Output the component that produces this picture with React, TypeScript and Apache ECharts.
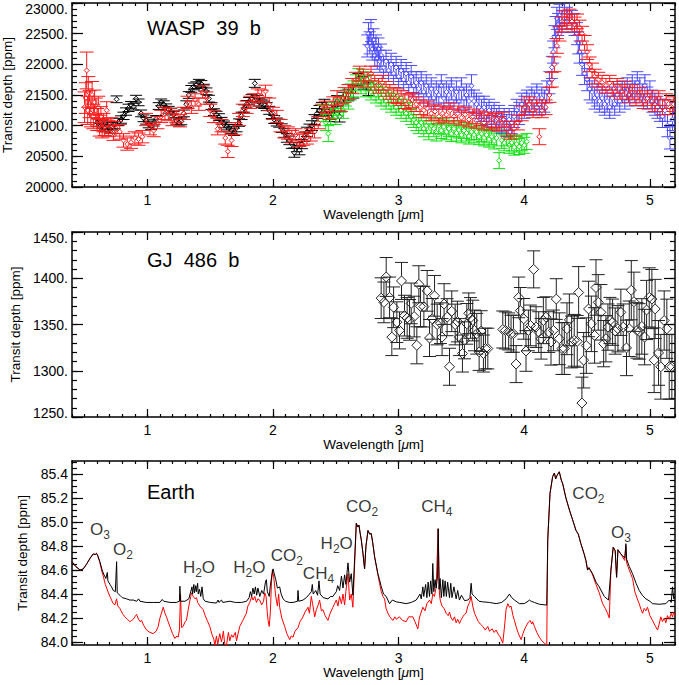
import React, { useEffect, useRef } from 'react';
import * as echarts from 'echarts';

const FONT = '"Liberation Sans", Arial, Helvetica, sans-serif';

// ---------- tick labels ----------
const xMajorTicks = [1, 2, 3, 4, 5];
const waspYTicks = [20000, 20500, 21000, 21500, 22000, 22500, 23000];
const gjYTicks = [1250, 1300, 1350, 1400, 1450];
const earthYTicks = [84.0, 84.2, 84.4, 84.6, 84.8, 85.0, 85.2, 85.4];

// ---------- WASP 39 b : [wavelength, depth, error] ----------
const waspBlack = [
  [0.60,21050,60],[0.62,20980,60],[0.64,21020,60],[0.66,20960,60],[0.68,21000,60],[0.70,20940,60],[0.72,20990,60],[0.74,21010,60],
  [0.755,21430,55],[0.77,21060,60],[0.79,21100,60],[0.81,21160,60],[0.83,21230,60],[0.85,21290,60],[0.87,21340,55],[0.89,21310,55],
  [0.91,21440,55],[0.93,21380,55],[0.95,21200,55],[0.97,21120,55],[0.99,21080,55],[1.01,21020,55],[1.03,20990,55],[1.05,21050,55],
  [1.07,21110,55],[1.09,21320,55],[1.11,21380,55],[1.13,21350,55],[1.15,21300,55],[1.17,21260,55],[1.19,21230,55],[1.21,21180,55],
  [1.23,21080,55],[1.25,21050,55],[1.27,21070,55],[1.29,21200,55],[1.31,21350,55],[1.33,21500,55],[1.35,21600,55],[1.37,21640,55],
  [1.39,21660,55],[1.41,21700,55],[1.43,21680,55],[1.45,21620,55],[1.47,21560,55],[1.49,21440,55],[1.51,21320,55],[1.53,21220,55],
  [1.55,21180,55],[1.57,21140,55],[1.59,21080,55],[1.61,21020,55],[1.63,20990,60],[1.65,20960,60],[1.67,20930,60],[1.69,20900,60],
  [1.71,20960,60],[1.73,21050,60],[1.75,21160,60],[1.77,21280,60],[1.79,21350,60],[1.81,21400,60],[1.83,21450,60],[1.855,21690,65],
  [1.87,21430,60],[1.89,21380,60],[1.91,21360,60],[1.93,21340,60],[1.95,21310,65],[1.97,21250,65],[1.99,21180,65],[2.01,21100,65],
  [2.03,21060,65],[2.05,21040,65],[2.07,20960,70],[2.09,20880,70],[2.11,20800,70],[2.13,20760,70],[2.15,20700,70],[2.17,20560,75],
  [2.19,20650,75],[2.21,20600,75],[2.23,20700,75],[2.25,20820,75],[2.27,20900,75],[2.29,20950,75],[2.31,21000,80],[2.33,21100,80],
  [2.35,21200,80],[2.37,21250,80],[2.39,21300,80],[2.41,21350,80],[2.43,21250,85],[2.45,21150,85],[2.47,21200,85],[2.49,21300,85],
  [2.51,21400,90],[2.53,21150,90],[2.56,21450,95],[2.60,21500,95],[2.64,21550,100],[2.68,21750,100],[2.72,21700,105],[2.76,21600,110],
];

const waspRed = [
  [0.50,21300,250],[0.51,21450,250],[0.517,21900,300],[0.525,21250,230],[0.53,21550,250],[0.54,21350,220],[0.55,21200,220],[0.56,21500,220],
  [0.57,21150,200],[0.58,21380,200],[0.59,21250,200],[0.60,21100,180],[0.61,21300,180],[0.62,21000,170],[0.63,21150,160],[0.64,20950,150],
  [0.65,21050,150],[0.66,20980,140],[0.676,21250,140],[0.69,20950,130],[0.71,21000,130],[0.73,20880,120],[0.75,20950,120],[0.78,20900,120],
  [0.81,20760,110],[0.84,20700,100],[0.87,20730,100],[0.90,20800,100],[0.93,20780,100],[0.96,20820,100],[0.99,21100,100],[1.02,20950,100],
  [1.05,20920,100],[1.08,21050,100],[1.11,21150,100],[1.14,21200,100],[1.17,21180,100],[1.20,21100,100],[1.23,21150,100],[1.26,21080,100],
  [1.29,21200,100],[1.32,21380,100],[1.35,21300,100],[1.38,21420,100],[1.41,21350,100],[1.44,21550,100],[1.47,21450,100],[1.50,21250,100],
  [1.53,21150,100],[1.56,20950,100],[1.59,21000,100],[1.62,20800,100],[1.64,20580,100],[1.67,20760,100],[1.70,20950,100],[1.73,21100,100],
  [1.76,21250,100],[1.79,21300,100],[1.82,21380,100],[1.85,21420,100],[1.88,21500,100],[1.91,21480,100],[1.94,21560,100],[1.97,21350,100],
  [2.00,21200,100],[2.03,21150,100],[2.06,21000,100],[2.09,20900,100],[2.12,20880,100],[2.15,20820,100],[2.18,20850,100],[2.21,20760,100],
  [2.24,20780,100],[2.27,20800,100],[2.30,20850,100],[2.33,20900,100],[2.36,21050,100],[2.39,21250,100],[2.42,21300,100],[2.45,21200,100],
  [2.48,21350,120],[2.51,21450,120],[2.54,21350,120],[2.57,21500,120],[2.60,21550,120],[2.63,21650,120],[2.66,21750,120],[2.69,21850,120],
  [2.72,21800,120],[2.75,21750,120],[2.78,21850,120],[2.81,21700,120],[2.84,21650,120],[2.87,21700,120],[2.90,21600,120],[2.93,21550,120],
  [2.96,21500,120],[2.99,21480,120],[3.02,21450,120],[3.05,21400,120],[3.08,21380,120],[3.11,21420,120],[3.14,21350,120],[3.17,21300,120],
  [3.20,21250,120],[3.23,21280,120],[3.26,21200,120],[3.29,21230,120],[3.32,21150,120],[3.35,21200,120],[3.38,21180,120],[3.41,21250,120],
  [3.44,21150,120],[3.47,21200,120],[3.50,21130,120],[3.53,21180,120],[3.56,21100,120],[3.59,21150,120],[3.62,21080,120],[3.65,21120,120],
  [3.68,21050,120],[3.71,21100,120],[3.74,21050,120],[3.77,21080,120],[3.80,21030,120],[3.83,21100,120],[3.86,20950,120],[3.89,20900,120],
  [3.92,20950,120],[3.95,21050,120],[3.98,21200,120],[4.01,21300,120],[4.04,21350,120],[4.07,21250,120],[4.10,21300,120],[4.12,20820,130],
  [4.14,21250,120],[4.17,21300,120],[4.20,21500,120],[4.22,21750,120],[4.24,22000,120],[4.26,22300,120],[4.28,22500,120],[4.30,22650,120],
  [4.32,22750,120],[4.34,22700,120],[4.36,22780,120],[4.38,22700,120],[4.40,22650,120],[4.42,22700,120],[4.44,22600,120],[4.46,22500,120],
  [4.48,22350,120],[4.50,22200,120],[4.52,22000,120],[4.54,21900,120],[4.56,21800,120],[4.59,21750,120],[4.62,21700,120],[4.65,21650,120],
  [4.68,21700,120],[4.71,21600,120],[4.74,21650,120],[4.77,21550,120],[4.80,21600,120],[4.83,21500,120],[4.86,21550,120],[4.89,21450,120],
  [4.92,21500,120],[4.95,21400,120],[4.98,21450,120],[5.01,21400,120],[5.04,21350,120],[5.07,21450,120],[5.10,21300,120],[5.13,21400,120],
  [5.16,21300,120],[5.19,21350,120],
];

const waspGreen = [
  [2.40,21200,130],[2.42,21050,130],[2.44,20870,130],[2.46,21150,130],[2.48,21250,130],[2.50,21150,130],[2.52,21300,130],[2.54,21350,130],
  [2.56,21250,130],[2.58,21450,130],[2.60,21400,130],[2.62,21550,130],[2.64,21600,130],[2.66,21700,130],[2.68,21800,130],[2.70,21650,130],
  [2.72,21750,130],[2.74,21600,130],[2.76,21700,130],[2.78,21550,130],[2.80,21600,130],[2.82,21500,130],[2.84,21550,130],[2.86,21450,130],
  [2.88,21500,130],[2.90,21400,130],[2.92,21450,130],[2.94,21350,130],[2.96,21400,130],[2.98,21300,130],[3.00,21350,130],[3.02,21250,130],
  [3.04,21300,130],[3.06,21200,130],[3.08,21250,130],[3.10,21150,130],[3.12,21100,130],[3.14,21050,130],[3.16,21000,130],[3.18,21050,130],
  [3.20,20950,130],[3.22,21000,130],[3.24,20900,130],[3.26,21000,130],[3.28,20950,130],[3.30,20880,130],[3.32,21000,130],[3.34,20920,130],
  [3.36,20980,130],[3.38,20900,130],[3.40,20950,130],[3.42,20870,130],[3.44,20950,130],[3.46,20880,130],[3.48,20930,130],[3.50,20850,130],
  [3.52,20920,130],[3.54,20880,130],[3.56,20830,130],[3.58,20900,130],[3.60,20850,130],[3.62,20900,130],[3.64,20820,130],[3.66,20870,130],
  [3.68,20800,130],[3.70,20850,130],[3.72,20780,130],[3.74,20820,130],[3.76,20750,130],[3.78,20800,130],[3.80,20430,130],[3.82,20760,130],
  [3.84,20720,130],[3.86,20800,130],[3.88,20680,130],[3.90,20720,130],[3.92,20650,130],[3.94,20700,130],[3.96,20660,130],[3.98,20720,130],
  [4.00,20680,130],[4.02,20740,130],
];

const waspBlue = [
  [2.75,22300,180],[2.76,22500,180],[2.77,22350,180],[2.78,22550,180],[2.79,22250,180],[2.80,22400,180],[2.81,22150,180],[2.82,22300,180],
  [2.83,22100,180],[2.84,22250,180],[2.85,22050,180],[2.86,22150,180],[2.88,21950,180],[2.90,22050,180],[2.92,21900,180],[2.94,22000,180],
  [2.96,21850,180],[2.98,21950,180],[3.00,21800,180],[3.02,21900,180],[3.04,21750,180],[3.06,21850,180],[3.08,21700,180],[3.10,21800,180],
  [3.12,21650,180],[3.14,21700,180],[3.16,21600,180],[3.18,21700,180],[3.20,21550,180],[3.22,21650,180],[3.24,21500,180],[3.26,21600,180],
  [3.28,21450,180],[3.30,21550,180],[3.32,21500,180],[3.34,21650,180],[3.36,21450,180],[3.38,21550,180],[3.40,21500,180],[3.42,21600,180],
  [3.44,21450,180],[3.46,21550,180],[3.48,21400,180],[3.50,21600,180],[3.52,21450,180],[3.54,21500,180],[3.56,21400,180],[3.58,21650,180],
  [3.60,21400,180],[3.62,21350,180],[3.64,21300,180],[3.66,21250,180],[3.68,21300,180],[3.70,21200,180],[3.72,21250,180],[3.74,21150,180],
  [3.76,21200,180],[3.78,21100,180],[3.80,21150,180],[3.82,21050,180],[3.84,21100,180],[3.86,21000,180],[3.88,21100,180],[3.90,21050,180],
  [3.92,21150,180],[3.94,21250,180],[3.96,21200,180],[3.98,21350,180],[4.00,21300,180],[4.02,21400,180],[4.04,21350,180],[4.06,21450,180],
  [4.08,21400,180],[4.10,21500,180],[4.12,21350,180],[4.14,21450,180],[4.16,21400,180],[4.18,21550,180],[4.20,21700,180],[4.22,21950,180],
  [4.23,22200,180],[4.24,22450,180],[4.25,22600,180],[4.26,22750,180],[4.27,22650,180],[4.28,22800,180],[4.30,22700,180],[4.32,22850,180],
  [4.34,22750,180],[4.36,22850,180],[4.38,22700,180],[4.40,22650,180],[4.42,22500,180],[4.43,22350,180],[4.44,22200,180],[4.46,22000,180],
  [4.48,21850,180],[4.50,21750,180],[4.52,21600,180],[4.54,21550,180],[4.56,21450,180],[4.58,21500,180],[4.60,21400,180],[4.62,21450,180],
  [4.64,21350,180],[4.66,21400,180],[4.68,21300,180],[4.70,21450,180],[4.72,21350,180],[4.74,21500,180],[4.76,21400,180],[4.78,21550,180],
  [4.80,21450,180],[4.82,21600,180],[4.84,21500,180],[4.86,21650,180],[4.88,21550,180],[4.90,21700,180],[4.92,21600,180],[4.94,21500,180],
  [4.96,21650,180],[4.98,21450,180],[5.00,21550,180],[5.02,21400,180],[5.04,21350,180],[5.06,21300,180],[5.08,21250,180],[5.10,21150,180],
  [5.12,21250,180],[5.14,21000,180],[5.16,20800,180],[5.18,21100,180],[5.20,21200,180],
];

// ---------- GJ 486 b : [wavelength, depth, error] ----------
const gjData = [
  [2.861,1378.5,22],[2.883,1373.9,22],[2.901,1401.4,21],[2.928,1379.3,22],[2.946,1336.4,20],[2.960,1368.6,22],[2.986,1352.5,22],
  [3.007,1343.6,20],[3.023,1397.1,20],[3.047,1359.6,22],[3.068,1357.1,22],[3.087,1355.0,22],[3.100,1372.8,22],[3.124,1358.6,22],
  [3.145,1327.5,20],[3.161,1393.5,20],[3.174,1369.6,22],[3.201,1369.3,22],[3.227,1386.4,22],[3.246,1335.4,20],[3.267,1356.1,22],
  [3.286,1381.0,22],[3.307,1350.0,22],[3.333,1351.4,22],[3.346,1336.4,20],[3.362,1372.1,22],[3.386,1357.9,20],[3.405,1304.3,20],
  [3.423,1364.3,22],[3.450,1350.0,22],[3.468,1353.2,22],[3.484,1336.4,20],[3.508,1318.6,20],[3.524,1332.9,20],[3.543,1350.7,22],
  [3.558,1362.1,22],[3.572,1357.1,22],[3.590,1354.3,22],[3.604,1343.6,22],[3.622,1340.0,22],[3.641,1320.4,20],[3.657,1342.9,22],
  [3.675,1318.6,20],[3.691,1324.0,22],[3.710,1324.0,22],
  [3.829,1344.6,20],[3.850,1343.6,20],[3.876,1342.5,20],[3.895,1340.0,20],[3.914,1340.0,20],[3.935,1307.2,20],[3.956,1379.3,22],
  [3.969,1365.0,25],[3.996,1356.1,22],[4.014,1321.4,22],[4.033,1343.6,22],[4.049,1349.0,22],[4.075,1409.6,20],[4.094,1347.2,22],
  [4.115,1341.8,22],[4.134,1334.6,22],[4.152,1354.3,25],[4.173,1357.9,22],[4.195,1341.8,22],[4.213,1331.1,25],[4.232,1343.6,22],
  [4.255,1377.5,22],[4.279,1334.6,28],[4.300,1324.0,28],[4.319,1324.0,28],[4.340,1345.4,28],[4.359,1355.0,28],[4.377,1331.1,28],
  [4.398,1332.9,28],[4.422,1331.8,28],[4.433,1384.6,28],[4.459,1265.1,28],[4.473,1311.4,30],[4.494,1327.2,30],[4.512,1366.8,30],
  [4.534,1350.7,30],[4.560,1338.2,30],[4.571,1390.0,30],[4.589,1373.9,30],[4.610,1363.2,30],[4.632,1329.3,25],[4.650,1334.6,25],
  [4.666,1347.2,25],[4.682,1354.3,25],[4.703,1352.5,25],[4.724,1342.9,25],[4.746,1345.4,25],[4.769,1363.2,25],[4.788,1347.2,25],
  [4.814,1324.7,30],[4.836,1345.4,30],[4.852,1387.1,32],[4.873,1374.6,32],[4.897,1343.6,30],[4.915,1342.5,30],[4.936,1347.9,30],
  [4.958,1336.4,30],[4.974,1365.7,32],[4.995,1379.3,32],[5.016,1377.5,32],[5.034,1311.4,35],[5.042,1366.8,32],[5.069,1319.3,35],
  [5.087,1304.3,35],[5.114,1354.3,32],[5.135,1345.4,32],[5.154,1304.3,35],[5.175,1304.3,35],
];

// ---------- Earth : [wavelength, depth] ----------
const earthBlack = [
  [0.40,84.67],[0.43,84.63],[0.464,84.60],[0.49,84.61],[0.516,84.65],[0.545,84.70],[0.569,84.735],[0.585,84.73],[0.595,84.74],[0.605,84.72],
  [0.622,84.67],[0.64,84.60],[0.655,84.56],[0.67,84.53],[0.681,84.58],[0.686,84.51],[0.702,84.48],[0.715,84.46],[0.728,84.43],[0.745,84.42],
  [0.750,84.42],[0.755,84.67],[0.760,84.41],[0.781,84.39],[0.80,84.37],[0.834,84.36],[0.86,84.35],[0.888,84.35],[0.914,84.34],[0.93,84.36],
  [0.941,84.34],[0.99,84.33],[1.05,84.33],[1.10,84.33],[1.118,84.355],[1.13,84.34],[1.18,84.33],[1.23,84.33],[1.255,84.34],[1.259,84.465],
  [1.264,84.34],[1.30,84.34],[1.33,84.36],[1.345,84.42],[1.355,84.46],[1.36,84.40],[1.37,84.48],[1.375,84.41],[1.385,84.47],[1.39,84.42],
  [1.40,84.49],[1.405,84.40],[1.415,84.44],[1.425,84.38],[1.435,84.46],[1.445,84.36],[1.46,84.34],[1.50,84.33],[1.55,84.325],[1.563,84.35],
  [1.57,84.33],[1.59,84.35],[1.60,84.33],[1.656,84.34],[1.70,84.33],[1.75,84.33],[1.79,84.34],[1.81,84.37],[1.82,84.42],[1.83,84.38],
  [1.84,84.45],[1.85,84.40],[1.86,84.46],[1.87,84.39],[1.88,84.45],[1.895,84.38],[1.91,84.43],[1.925,84.40],[1.94,84.50],[1.947,84.52],
  [1.955,84.42],[1.97,84.38],[1.979,84.47],[1.99,84.55],[2.00,84.61],[2.01,84.57],[2.022,84.52],[2.035,84.45],[2.053,84.46],[2.065,84.40],
  [2.08,84.36],[2.10,84.34],[2.13,84.33],[2.16,84.33],[2.195,84.34],[2.199,84.43],[2.205,84.34],[2.239,84.35],[2.265,84.37],[2.29,84.40],
  [2.305,84.42],[2.313,84.48],[2.32,84.40],[2.34,84.43],[2.355,84.39],[2.366,84.51],[2.375,84.40],[2.40,84.37],[2.437,84.36],[2.46,84.38],
  [2.477,84.38],[2.49,84.40],[2.504,84.42],[2.515,84.47],[2.53,84.43],[2.545,84.55],[2.557,84.45],[2.57,84.56],[2.58,84.48],[2.597,84.66],
  [2.61,84.50],[2.623,84.57],[2.636,84.39],[2.65,84.70],[2.663,84.99],[2.675,84.96],[2.684,84.975],[2.695,84.90],[2.703,84.85],[2.715,84.75],
  [2.729,84.61],[2.74,84.80],[2.756,84.93],[2.77,84.90],[2.782,84.905],[2.795,84.82],[2.809,84.71],[2.835,84.57],[2.848,84.52],[2.862,84.46],
  [2.88,84.40],[2.901,84.38],[2.928,84.32],[2.95,84.35],[2.981,84.335],[3.01,84.33],[3.06,84.32],[3.10,84.33],[3.14,84.35],[3.17,84.40],
  [3.18,84.36],[3.193,84.46],[3.20,84.38],[3.215,84.48],[3.225,84.37],[3.235,84.50],[3.246,84.38],[3.255,84.51],[3.265,84.40],[3.272,84.655],
  [3.28,84.42],[3.29,84.52],[3.299,84.45],[3.31,84.55],[3.315,84.945],[3.322,84.44],[3.33,84.53],[3.34,84.37],[3.352,84.52],[3.36,84.38],
  [3.37,84.51],[3.38,84.38],[3.39,84.50],[3.405,84.37],[3.415,84.49],[3.425,84.37],[3.44,84.46],[3.458,84.36],[3.47,84.43],[3.484,84.35],
  [3.50,84.39],[3.525,84.345],[3.551,84.35],[3.568,84.37],[3.577,84.49],[3.585,84.40],[3.604,84.38],[3.64,84.34],[3.67,84.335],[3.723,84.33],
  [3.776,84.32],[3.82,84.33],[3.855,84.36],[3.882,84.40],[3.90,84.37],[3.922,84.35],[3.961,84.32],[4.00,84.32],[4.03,84.34],[4.041,84.35],
  [4.055,84.34],[4.081,84.33],[4.12,84.315],[4.179,84.308],[4.187,84.85],[4.205,85.24],[4.226,85.38],[4.24,85.41],[4.25,85.36],[4.261,85.39],
  [4.279,85.42],[4.295,85.35],[4.306,85.32],[4.332,85.20],[4.36,85.10],[4.385,85.02],[4.412,84.93],[4.43,84.90],[4.451,84.82],[4.475,84.74],
  [4.491,84.68],[4.504,84.60],[4.515,84.62],[4.544,84.57],[4.571,84.50],[4.597,84.46],[4.637,84.38],[4.671,84.35],[4.690,84.60],[4.708,84.79],
  [4.72,84.77],[4.724,84.76],[4.735,84.54],[4.746,84.77],[4.765,84.74],[4.783,84.72],[4.80,84.70],[4.809,84.82],[4.815,84.69],[4.836,84.63],
  [4.862,84.57],[4.89,84.49],[4.915,84.43],[4.94,84.39],[4.968,84.36],[5.00,84.34],[5.021,84.32],[5.074,84.315],[5.127,84.32],[5.154,84.35],
  [5.17,84.33],[5.18,84.46],[5.19,84.36],[5.20,84.38],
];

const earthRed = [
  [0.40,84.67],[0.43,84.63],[0.464,84.60],[0.49,84.61],[0.516,84.65],[0.545,84.70],[0.569,84.735],[0.585,84.73],[0.595,84.74],[0.605,84.72],
  [0.622,84.66],[0.64,84.58],[0.649,84.55],[0.665,84.48],[0.676,84.45],[0.69,84.41],[0.702,84.38],[0.715,84.35],[0.728,84.32],[0.742,84.31],
  [0.755,84.36],[0.765,84.30],[0.781,84.28],[0.80,84.24],[0.821,84.21],[0.84,84.19],[0.861,84.17],[0.875,84.18],[0.888,84.19],[0.90,84.21],
  [0.914,84.23],[0.93,84.19],[0.941,84.17],[0.954,84.18],[0.97,84.14],[0.993,84.10],[1.02,84.08],[1.046,84.07],[1.07,84.09],[1.086,84.13],
  [1.10,84.20],[1.115,84.25],[1.126,84.29],[1.14,84.24],[1.152,84.21],[1.165,84.17],[1.179,84.13],[1.20,84.07],[1.219,84.03],[1.235,84.05],
  [1.245,84.04],[1.255,84.10],[1.264,84.40],[1.272,84.12],[1.285,84.13],[1.30,84.17],[1.311,84.18],[1.33,84.30],[1.345,84.38],[1.351,84.41],
  [1.365,84.38],[1.38,84.36],[1.391,84.37],[1.40,84.33],[1.418,84.30],[1.444,84.27],[1.46,84.22],[1.48,84.17],[1.497,84.13],[1.515,84.06],
  [1.53,84.02],[1.537,83.97],[1.55,84.05],[1.56,83.98],[1.576,84.07],[1.59,84.00],[1.605,84.09],[1.615,83.99],[1.629,83.97],[1.645,84.08],
  [1.656,84.01],[1.67,84.06],[1.682,84.04],[1.70,84.08],[1.71,84.01],[1.735,84.13],[1.76,84.18],[1.788,84.24],[1.80,84.30],[1.815,84.33],
  [1.83,84.38],[1.841,84.35],[1.855,84.38],[1.868,84.33],[1.88,84.36],[1.894,84.35],[1.91,84.31],[1.925,84.34],[1.934,84.41],[1.945,84.38],
  [1.954,84.25],[1.961,84.18],[1.97,84.13],[1.979,84.25],[1.988,84.50],[1.995,84.60],[2.005,84.55],[2.015,84.45],[2.022,84.38],[2.035,84.30],
  [2.045,84.40],[2.053,84.29],[2.07,84.20],[2.093,84.13],[2.11,84.07],[2.133,84.02],[2.145,84.05],[2.159,84.04],[2.175,84.09],[2.199,84.12],
  [2.215,84.17],[2.239,84.21],[2.255,84.25],[2.279,84.29],[2.29,84.24],[2.305,84.38],[2.315,84.32],[2.332,84.21],[2.345,84.27],[2.36,84.31],
  [2.371,84.35],[2.385,84.26],[2.398,84.27],[2.415,84.22],[2.437,84.18],[2.455,84.24],[2.477,84.29],[2.49,84.32],[2.504,84.35],[2.517,84.30],
  [2.53,84.38],[2.545,84.32],[2.557,84.40],[2.57,84.31],[2.58,84.42],[2.597,84.57],[2.61,84.35],[2.623,84.40],[2.636,84.29],[2.65,84.65],
  [2.663,84.99],[2.675,84.96],[2.684,84.975],[2.695,84.90],[2.703,84.85],[2.715,84.75],[2.729,84.61],[2.74,84.80],[2.756,84.93],[2.77,84.90],
  [2.782,84.905],[2.795,84.82],[2.809,84.71],[2.835,84.56],[2.848,84.49],[2.862,84.42],[2.875,84.38],[2.888,84.36],[2.90,84.28],[2.915,84.24],
  [2.93,84.21],[2.954,84.18],[2.97,84.21],[2.981,84.19],[3.007,84.21],[3.03,84.18],[3.06,84.17],[3.08,84.21],[3.113,84.21],[3.13,84.17],
  [3.153,84.11],[3.165,84.20],[3.18,84.25],[3.193,84.29],[3.21,84.26],[3.225,84.32],[3.246,84.35],[3.26,84.32],[3.272,84.40],[3.285,84.38],
  [3.299,84.46],[3.315,84.945],[3.325,84.40],[3.331,84.35],[3.345,84.30],[3.362,84.28],[3.378,84.24],[3.395,84.22],[3.405,84.25],[3.418,84.20],
  [3.431,84.18],[3.445,84.21],[3.458,84.16],[3.47,84.19],[3.484,84.155],[3.50,84.19],[3.511,84.21],[3.524,84.23],[3.537,84.24],[3.551,84.30],
  [3.565,84.33],[3.577,84.38],[3.59,84.30],[3.604,84.24],[3.617,84.21],[3.635,84.17],[3.65,84.15],[3.67,84.13],[3.69,84.10],[3.71,84.13],
  [3.723,84.09],[3.745,84.11],[3.76,84.08],[3.776,84.10],[3.795,84.06],[3.81,84.04],[3.829,83.99],[3.845,84.15],[3.855,84.27],[3.869,84.32],
  [3.882,84.29],[3.895,84.30],[3.91,84.22],[3.922,84.18],[3.935,84.13],[3.95,84.08],[3.962,84.05],[3.975,84.02],[3.99,84.07],[4.00,84.10],
  [4.014,84.13],[4.03,84.16],[4.046,84.18],[4.06,84.15],[4.067,84.17],[4.081,84.13],[4.10,84.08],[4.12,84.04],[4.14,84.01],[4.16,83.99],
  [4.179,83.975],[4.187,84.85],[4.205,85.24],[4.226,85.38],[4.24,85.41],[4.25,85.36],[4.261,85.39],[4.279,85.42],[4.295,85.35],[4.306,85.32],
  [4.332,85.20],[4.36,85.10],[4.385,85.02],[4.412,84.93],[4.43,84.90],[4.451,84.82],[4.475,84.74],[4.491,84.68],[4.504,84.60],[4.515,84.62],
  [4.544,84.56],[4.571,84.48],[4.597,84.41],[4.624,84.32],[4.645,84.28],[4.663,84.24],[4.677,84.20],[4.690,84.60],[4.708,84.79],[4.72,84.77],
  [4.724,84.76],[4.735,84.54],[4.746,84.77],[4.765,84.74],[4.783,84.71],[4.80,84.68],[4.809,84.80],[4.815,84.66],[4.836,84.60],[4.862,84.53],
  [4.88,84.42],[4.90,84.36],[4.915,84.32],[4.93,84.27],[4.942,84.24],[4.955,84.28],[4.968,84.26],[4.981,84.29],[5.00,84.22],[5.021,84.18],
  [5.04,84.14],[5.061,84.10],[5.074,84.15],[5.087,84.21],[5.10,84.17],[5.115,84.20],[5.127,84.16],[5.14,84.22],[5.154,84.19],[5.17,84.24],
  [5.18,84.21],[5.19,84.25],[5.20,84.22],
];

// ---------- Earth molecule labels : [wavelength, depth, text] ----------
const earthLabels = [
  [0.623, 84.94, 'O{s|3}'],
  [0.805, 84.77, 'O{s|2}'],
  [1.411, 84.62, 'H{s|2}O'],
  [1.812, 84.62, 'H{s|2}O'],
  [2.110, 84.72, 'CO{s|2}'],
  [2.362, 84.57, 'CH{s|4}'],
  [2.507, 84.82, 'H{s|2}O'],
  [2.709, 85.13, 'CO{s|2}'],
  [3.305, 85.13, 'CH{s|4}'],
  [4.511, 85.235, 'CO{s|2}'],
  [4.770, 84.91, 'O{s|3}'],
];

const panelTitles = ['WASP\u00a0 39\u00a0 b', 'GJ\u00a0 486\u00a0 b', 'Earth'];

function steps(a: number, b: number, s: number) {
  const out: number[] = [];
  const n = Math.round((b - a) / s);
  for (let i = 0; i <= n; i++) out.push(+(a + i * s).toFixed(4));
  return out;
}

const xMinorTicks = steps(0.4, 5.2, 0.1);

const panels = [
  { top: 3, height: 184, yMin: 20000, yMax: 23000, major: waspYTicks, minor: steps(20000, 23000, 100), fmt: (v: number) => (v === 23000 ? '{dn|' + v + '.}' : v + '.'), nameGap: 55, titleY: 28 },
  { top: 232, height: 185, yMin: 1250, yMax: 1450, major: gjYTicks, minor: steps(1250, 1450, 10), fmt: (v: number) => (v === 1450 ? '{dn|' + v + '.}' : v === 1250 ? '{up|' + v + '.}' : v + '.'), nameGap: 47, titleY: 260 },
  { top: 461, height: 184, yMin: 83.975, yMax: 85.51, major: earthYTicks, minor: steps(84.0, 85.5, 0.05), fmt: (v: number) => v.toFixed(1), nameGap: 38, titleY: 492 },
];

const LINE = { color: '#000', width: 1.5 };
const TICK = { color: '#000', width: 1.2 };
const LABEL = { color: '#000', fontSize: 14, fontFamily: FONT };

function xAxesFor(gi: number) {
  const base = { type: 'value', gridIndex: gi, min: 0.4, max: 5.2, splitLine: { show: false } };
  return [
    {
      ...base, position: 'bottom',
      axisLine: { show: true, onZero: false, lineStyle: LINE },
      axisTick: { show: true, inside: true, length: 8, customValues: xMajorTicks, lineStyle: TICK },
      axisLabel: { show: true, customValues: xMajorTicks, margin: 6, ...LABEL, formatter: (v: number) => String(v) },
      name: 'Wavelength [{i|μ}m]', nameLocation: 'middle', nameGap: 18,
      nameTextStyle: { ...LABEL, fontSize: 13.5, rich: { i: { fontStyle: 'italic', fontSize: 13.5, fontFamily: FONT, color: '#000' } } },
    },
    {
      ...base, position: 'bottom',
      axisLine: { show: false, onZero: false },
      axisTick: { show: true, inside: true, length: 3, customValues: xMinorTicks, lineStyle: TICK },
      axisLabel: { show: false },
    },
    {
      ...base, position: 'top',
      axisLine: { show: true, onZero: false, lineStyle: LINE },
      axisTick: { show: true, inside: true, length: 8, customValues: xMajorTicks, lineStyle: TICK },
      axisLabel: { show: false },
    },
    {
      ...base, position: 'top',
      axisLine: { show: false, onZero: false },
      axisTick: { show: true, inside: true, length: 3, customValues: xMinorTicks, lineStyle: TICK },
      axisLabel: { show: false },
    },
  ];
}

function yAxesFor(gi: number) {
  const p = panels[gi];
  const base = { type: 'value', gridIndex: gi, min: p.yMin, max: p.yMax, splitLine: { show: false } };
  return [
    {
      ...base, position: 'left',
      axisLine: { show: true, onZero: false, lineStyle: LINE },
      axisTick: { show: true, inside: true, length: 11, customValues: p.major, lineStyle: TICK },
      axisLabel: {
        show: true, customValues: p.major, margin: 4, ...LABEL, formatter: p.fmt,
        rich: {
          dn: { ...LABEL, padding: [12, 0, 0, 0] },
          up: { ...LABEL, padding: [0, 0, 8, 0] },
        },
      },
      name: 'Transit depth [ppm]', nameLocation: 'middle', nameRotate: 90, nameGap: p.nameGap,
      nameTextStyle: { ...LABEL, fontSize: 13.5 },
    },
    {
      ...base, position: 'left',
      axisLine: { show: false, onZero: false },
      axisTick: { show: true, inside: true, length: 5, customValues: p.minor, lineStyle: TICK },
      axisLabel: { show: false },
    },
    {
      ...base, position: 'right',
      axisLine: { show: true, onZero: false, lineStyle: LINE },
      axisTick: { show: true, inside: true, length: 11, customValues: p.major, lineStyle: TICK },
      axisLabel: { show: false },
    },
    {
      ...base, position: 'right',
      axisLine: { show: false, onZero: false },
      axisTick: { show: true, inside: true, length: 5, customValues: p.minor, lineStyle: TICK },
      axisLabel: { show: false },
    },
  ];
}

function errorBars(color: string, cap: number, r: number, lw: number) {
  return (_params: any, api: any) => {
    const x = api.value(0), y = api.value(1), e = api.value(2);
    const c = api.coord([x, y]);
    const hi = api.coord([x, y + e]);
    const lo = api.coord([x, y - e]);
    const st = { stroke: color, lineWidth: lw, fill: 'none' };
    const children: any[] = [
      { type: 'line', shape: { x1: c[0] - cap, y1: hi[1], x2: c[0] + cap, y2: hi[1] }, style: st },
      { type: 'line', shape: { x1: c[0] - cap, y1: lo[1], x2: c[0] + cap, y2: lo[1] }, style: st },
      { type: 'polygon', shape: { points: [[c[0], c[1] - r], [c[0] + r, c[1]], [c[0], c[1] + r], [c[0] - r, c[1]]] }, style: st },
    ];
    if (c[1] - r > hi[1]) children.push({ type: 'line', shape: { x1: c[0], y1: hi[1], x2: c[0], y2: c[1] - r }, style: st });
    if (lo[1] > c[1] + r) children.push({ type: 'line', shape: { x1: c[0], y1: c[1] + r, x2: c[0], y2: lo[1] }, style: st });
    return { type: 'group', children };
  };
}

function errSeries(gi: number, data: number[][], color: string, cap: number, r: number) {
  return {
    type: 'custom', xAxisIndex: gi * 4, yAxisIndex: gi * 4, data, clip: true, silent: true,
    renderItem: errorBars(color, cap, r, 1),
    encode: { x: 0, y: 1 },
  };
}

function buildOption() {
  const grid = panels.map((p) => ({ left: 72, width: 603, top: p.top, height: p.height, outerBoundsMode: 'none', containLabel: false }));
  const xAxis = [0, 1, 2].flatMap((gi) => xAxesFor(gi));
  const yAxis = [0, 1, 2].flatMap((gi) => yAxesFor(gi));
  const series: any[] = [
    errSeries(0, waspBlack, '#000000', 6, 2.5),
    errSeries(0, waspGreen, '#10e010', 6, 2.5),
    errSeries(0, waspBlue, '#4a4aff', 6, 2.5),
    errSeries(0, waspRed, '#ff1a1a', 7, 2.5),
    errSeries(1, gjData, '#222222', 6.5, 5),
    {
      type: 'line', xAxisIndex: 8, yAxisIndex: 8, data: earthRed, showSymbol: false, clip: true, silent: true,
      lineStyle: { color: '#ff0000', width: 1 },
    },
    {
      type: 'line', xAxisIndex: 8, yAxisIndex: 8, data: earthBlack, showSymbol: false, clip: true, silent: true,
      lineStyle: { color: '#000000', width: 1 },
    },
    {
      type: 'scatter', xAxisIndex: 8, yAxisIndex: 8, silent: true, symbolSize: 0.1,
      itemStyle: { color: 'transparent' },
      data: earthLabels.map((d) => ({ value: [d[0], d[1]], name: d[2] })),
      label: {
        show: true, position: 'inside', formatter: (p: any) => p.name,
        color: '#000', fontSize: 17, fontFamily: FONT, lineHeight: 23,
        rich: { s: { fontSize: 12, lineHeight: 12, verticalAlign: 'bottom', fontFamily: FONT, color: '#000' } },
      },
    },
  ];
  const graphic = panels.map((p, i) => ({
    type: 'text', x: 147, y: p.titleY, silent: true,
    style: { text: panelTitles[i], fontSize: 20, fontFamily: FONT, fill: '#000', verticalAlign: 'middle', align: 'left' },
  }));
  return { animation: false, backgroundColor: '#fff', grid, xAxis, yAxis, series, graphic };
}

export default function App() {
  const ref = useRef<HTMLDivElement>(null);
  useEffect(() => {
    document.body.style.margin = '0';
    const chart = echarts.init(ref.current as HTMLDivElement, null, { renderer: 'svg' });
    chart.setOption(buildOption() as any);
    return () => chart.dispose();
  }, []);
  return <div ref={ref} style={{ width: 679, height: 685, background: '#fff' }} />;
}
